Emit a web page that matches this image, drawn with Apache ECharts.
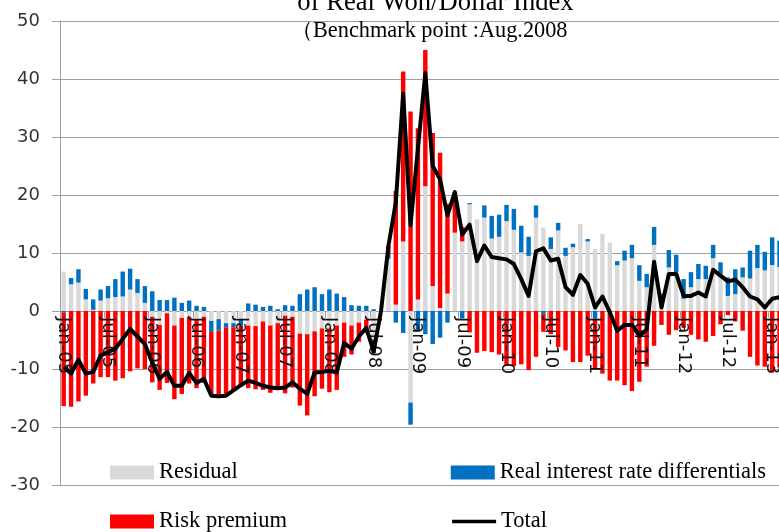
<!DOCTYPE html>
<html><head><meta charset="utf-8">
<script src="https://cdn.jsdelivr.net/npm/echarts@6/dist/echarts.min.js"></script>
<style>html,body{margin:0;padding:0;background:#fff;}#c{width:779px;height:532px;}</style>
</head><body><div id="c"></div>
<script>
// Categories: monthly, Jan-05 .. Mar-13
const monthNames = ['Jan','Feb','Mar','Apr','May','Jun','Jul','Aug','Sep','Oct','Nov','Dec'];
const years = ['05','06','07','08','09','10','11','12','13'];
const lastMonthCount = 3; // Jan..Mar 2013
const categories = [];
years.forEach((y, yi) => {
  const n = yi === years.length - 1 ? lastMonthCount : 12;
  for (let m = 0; m < n; m++) categories.push(monthNames[m] + '-' + y);
});
const labelEvery = 6; // tick labels: Jan-xx and Jul-xx

const residual = [
  6.8,4.6,4.9,2.0,0.2,1.8,2.2,2.4,2.5,3.7,3.1,1.4,
  -1.0,-2.4,-0.4,-2.5,-1.2,-1.0,-1.5,-1.0,-1.7,-1.4,-2.1,-2.1,
  -1.5,-2.5,-2.6,-1.8,-2.5,-2.1,-0.8,-1.0,-3.9,-4.0,-3.5,-3.0,
  -3.0,-2.5,-2.0,-2.5,-2.0,-1.5,-5.0,0,9.0,1.1,12.0,-15.8,
  2.0,21.5,4.3,0.5,3.0,13.5,12.0,18.4,15.8,16.1,12.5,12.8,
  15.5,14.0,10.1,9.5,16.1,14.4,10.7,13.9,9.5,11.0,15.0,12.0,
  10.7,13.3,11.8,7.9,8.7,9.1,5.2,4.1,11.4,2.1,7.5,6.7,
  2.1,4.1,5.5,5.5,9.1,6.4,2.6,2.9,5.8,5.6,7.4,7.0,
  7.9,7.6,7.0
];
const realRate = [
  -0.3,1.1,2.3,1.8,1.8,1.9,2.1,3.1,4.3,3.6,2.4,2.9,
  3.4,1.9,1.9,2.3,1.4,1.8,0.9,0.7,-1.9,-2.0,-0.7,-0.7,
  -1.0,1.3,1.1,0.7,0.9,0.3,1.0,0.9,2.9,3.7,4.1,2.9,
  3.7,3.0,2.4,1.0,0.9,0.9,0.3,0,0.8,-2.0,-3.8,-3.8,
  -3.5,-4.0,-5.7,-4.6,-2.0,0,-1.3,0.2,0,2.1,3.9,3.8,
  2.8,3.6,4.6,3.3,2.1,-0.5,2.0,1.3,1.4,0.6,0,0.4,
  -1.3,0,0,0.7,1.7,2.3,2.7,2.3,3.1,0.9,3.0,3.0,
  3.4,2.6,2.6,2.3,2.3,2.0,3.2,4.3,1.7,4.8,4.0,3.2,
  4.8,4.5,4.0
];
const riskPremium = [
  -16.1,-16.5,-15.6,-14.6,-12.5,-11.4,-11.4,-12.0,-11.6,-10.4,-9.9,-10.0,
  -11.3,-11.2,-12.0,-12.7,-13.1,-11.5,-11.8,-11.4,-11.0,-11.3,-11.8,-10.9,
  -10.3,-10.8,-10.9,-11.8,-11.6,-11.5,-13.4,-12.2,-12.4,-14.0,-11.2,-10.4,
  -11.0,-11.1,-5.9,-5.0,-3.3,-2.3,-2.3,0,1.4,19.6,29.3,34.4,
  29.5,23.5,26.4,26.8,15.5,7.0,2.5,-3.7,-7.2,-6.9,-7.1,-7.5,
  -9.4,-9.5,-9.2,-10.2,-7.9,-3.1,-4.0,-6.2,-6.8,-8.8,-8.8,-7.7,
  -8.8,-10.8,-12.0,-12.0,-12.8,-13.8,-12.2,-9.6,-6.0,-2.4,-4.1,-3.3,
  -2.9,-4.1,-4.9,-5.3,-4.3,-2.3,-0.7,-1.8,-3.4,-7.9,-9.4,-9.6,
  -10.6,-9.7,-9.0
];
const total = [
  -9.6,-10.8,-8.4,-10.8,-10.5,-7.7,-7.1,-6.5,-4.8,-3.1,-4.4,-5.7,
  -8.9,-11.7,-10.5,-12.9,-12.9,-10.7,-12.4,-11.7,-14.6,-14.7,-14.6,-13.7,
  -12.8,-12.0,-12.4,-12.9,-13.2,-13.3,-13.2,-12.3,-13.4,-14.3,-10.6,-10.5,
  -10.3,-10.6,-5.5,-6.5,-4.4,-2.9,-7.0,0,11.2,18.7,37.5,14.8,
  28.0,41.0,25.0,22.7,16.5,20.5,13.2,14.9,8.6,11.3,9.3,9.1,
  8.9,8.1,5.5,2.6,10.3,10.8,8.7,9.0,4.1,2.8,6.2,4.7,
  0.6,2.5,-0.2,-3.4,-2.4,-2.4,-4.3,-3.2,8.5,0.6,6.4,6.4,
  2.6,2.6,3.2,2.5,7.1,6.1,5.1,5.4,4.1,2.5,2.0,0.6,
  2.1,2.4,2.0
];

const titleText = 'of Real Won/Dollar Index';
const subtitleText = '\uFF08Benchmark point :Aug.2008';

const chart = echarts.init(document.getElementById('c'), null, {renderer: 'canvas'});
const gridLeft = 60, gridTop = 21, gridBottomPx = 485, bandW = 7.38;
const yMin = -30, yMax = 50;
const gridRight = 779 - (gridLeft + categories.length * bandW);
const zeroOffset = -(gridBottomPx - gridTop) * (0 - yMin) / (yMax - yMin);
const axisGray = '#a0a0a0';
const serif = '"Liberation Serif", "Times New Roman", serif';
const sans = '"DejaVu Sans", Verdana, sans-serif';

// category labels drawn on top of the bars (as in the original), placed via the axis scale
const labelData = categories.map((c, i) => [i, 0]).filter(d => d[0] % labelEvery === 0);

chart.setOption({
  animation: false,
  grid: {left: gridLeft, right: gridRight, top: gridTop, bottom: 532 - gridBottomPx,
         containLabel: false, outerBoundsMode: 'none'},
  graphic: [
    {type: 'text', x: 435.5, y: 3, z: 100,
     style: {text: titleText, font: '26.6px ' + serif, fill: '#000', align: 'center', verticalAlign: 'middle'}},
    {type: 'text', x: 291, y: 31.3, z: 100,
     style: {text: subtitleText, font: '22.3px ' + serif, fill: '#000', align: 'left', verticalAlign: 'middle'}}
  ],
  legend: [
    {left: 110, top: 461, itemWidth: 44, itemHeight: 14, itemGap: 213, padding: 0,
     textStyle: {fontFamily: serif, fontSize: 22.5, color: '#000'},
     data: [{name: 'Residual', icon: 'rect'}, {name: 'Real interest rate differentials', icon: 'rect'}]},
    {left: 110, top: 510, itemWidth: 44, itemHeight: 14, itemGap: 165, padding: 0,
     textStyle: {fontFamily: serif, fontSize: 22.5, color: '#000'},
     data: [{name: 'Risk premium', icon: 'rect'},
            {name: 'Total', icon: 'path://M0,0M44,14M0,5.2L44,5.2L44,8.8L0,8.8Z'}]}
  ],
  xAxis: {
    type: 'category', data: categories, boundaryGap: true,
    offset: zeroOffset,
    axisLine: {onZero: false, lineStyle: {color: axisGray, width: 1}},
    axisTick: {show: true, interval: labelEvery - 1, length: 7, lineStyle: {color: axisGray}},
    axisLabel: {show: false},
    splitLine: {show: false}
  },
  yAxis: {
    type: 'value', min: yMin, max: yMax, interval: 10,
    axisLine: {show: true, lineStyle: {color: axisGray}},
    axisTick: {show: true, length: 8, lineStyle: {color: axisGray}},
    axisLabel: {margin: 20, fontFamily: sans, fontSize: 18, color: '#333'},
    splitLine: {show: true, lineStyle: {color: axisGray, width: 1}}
  },
  series: [
    {name: 'Residual', type: 'bar', stack: 'c', barWidth: '60%', data: residual,
     itemStyle: {color: '#d9d9d9'}},
    {name: 'Real interest rate differentials', type: 'bar', stack: 'c', barWidth: '60%', data: realRate,
     itemStyle: {color: '#0070c0'}},
    {name: 'Risk premium', type: 'bar', stack: 'c', barWidth: '60%', data: riskPremium,
     itemStyle: {color: '#ff0000'}},
    {type: 'custom', data: labelData, z: 15, silent: true, clip: false,
     encode: {x: 0, y: 1},
     renderItem: function (params, api) {
       const idx = api.value(0);
       const pt = api.coord([idx, 0]);
       return {type: 'text', x: pt[0], y: pt[1] + 6, rotation: -Math.PI / 2,
               style: {text: categories[idx], font: '18px ' + sans, fill: '#111',
                       align: 'left', verticalAlign: 'middle'}};
     }},
    {name: 'Total', type: 'line', data: total, symbol: 'none', z: 20,
     lineStyle: {color: '#000', width: 4, join: 'round'}, itemStyle: {color: '#000'}}
  ]
});
</script></body></html>
